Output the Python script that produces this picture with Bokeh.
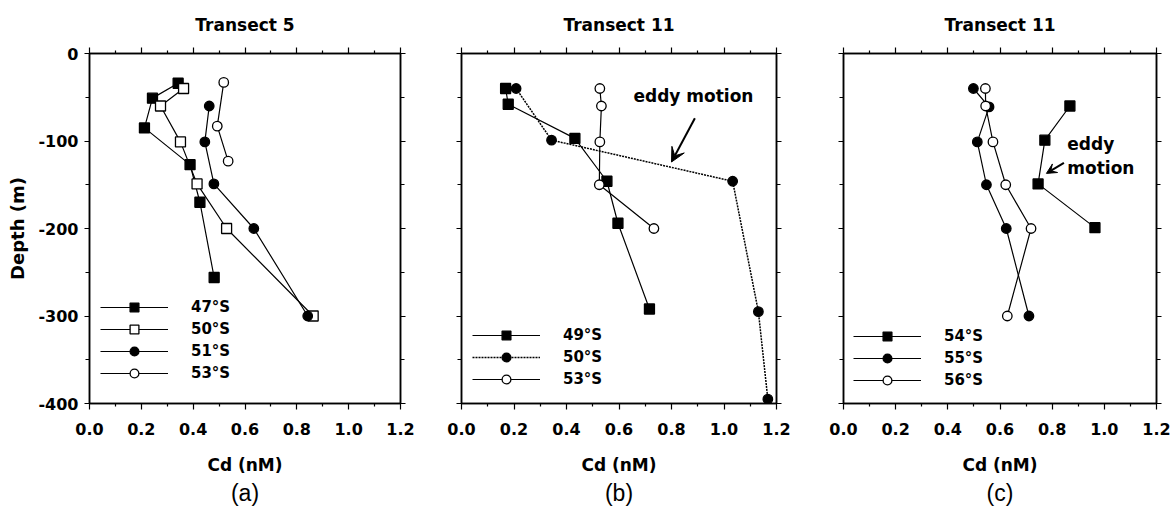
from bokeh.plotting import figure
from bokeh.models import (Range1d, LinearAxis, FixedTicker, PrintfTickFormatter,
                          CustomJSTickFormatter, Legend, LegendItem, Arrow, VeeHead,
                          Label, Title)
from bokeh.layouts import row
from bokeh.embed import file_html
from bokeh.resources import INLINE

# ---- Transect 5 ----
t5_47_cd = [0.342, 0.243, 0.212, 0.388, 0.426, 0.481]
t5_47_depth = [-34, -51, -85, -127, -170, -256]
t5_50_cd = [0.363, 0.274, 0.351, 0.415, 0.529, 0.863]
t5_50_depth = [-40, -60, -101, -149, -200, -300]
t5_51_cd = [0.462, 0.445, 0.480, 0.634, 0.842]
t5_51_depth = [-60, -101, -149, -200, -300]
t5_53_cd = [0.518, 0.493, 0.535]
t5_53_depth = [-33, -83, -123]

# ---- Transect 11, northern stations ----
t11_49_cd = [0.168, 0.178, 0.432, 0.554, 0.596, 0.716]
t11_49_depth = [-40, -58, -97, -146, -194, -292]
t11_50_cd = [0.208, 0.343, 1.033, 1.131, 1.167]
t11_50_depth = [-40, -99, -146, -295, -395]
t11_53_cd = [0.527, 0.533, 0.527, 0.525, 0.733]
t11_53_depth = [-40, -60, -101, -150, -200]

# ---- Transect 11, southern stations ----
t11_54_cd = [0.868, 0.772, 0.746, 0.964]
t11_54_depth = [-60, -99, -149, -199]
t11_55_cd = [0.498, 0.558, 0.513, 0.548, 0.624, 0.711]
t11_55_depth = [-40, -61, -101, -150, -200, -300]
t11_56_cd = [0.544, 0.545, 0.573, 0.622, 0.719, 0.628]
t11_56_depth = [-40, -60, -101, -150, -200, -300]

# axis ticks
x_major_ticks = [0.0, 0.2, 0.4, 0.6, 0.8, 1.0, 1.2]
x_minor_ticks = [0.1, 0.3, 0.5, 0.7, 0.9, 1.1]
y_major_ticks = [0, -100, -200, -300, -400]
y_minor_ticks = [-50, -150, -250, -350]

BOLD = "DejaVu Sans"
BLANK = CustomJSTickFormatter(code="return ''")


def style_axis(ax, show_labels, horizontal):
    ax.axis_line_color = "black"
    ax.axis_line_width = 1.5
    ax.major_tick_line_color = "black"
    ax.minor_tick_line_color = "black"
    ax.major_tick_line_width = 1.2
    ax.minor_tick_line_width = 1.2
    ax.major_tick_in = 0
    ax.minor_tick_in = 0
    if horizontal:
        ax.major_tick_out = 6
        ax.minor_tick_out = 3
    else:
        ax.major_tick_out = 5
        ax.minor_tick_out = 4
    ax.major_label_text_font = BOLD
    ax.major_label_text_font_style = "bold"
    ax.major_label_text_font_size = "16px"
    ax.major_label_text_color = "black"
    if not show_labels:
        ax.formatter = BLANK
        ax.major_label_standoff = 0


def make_panel(title, tag, width, left, right, show_y_labels):
    p = figure(width=width, height=511,
               x_range=Range1d(0, 1.2), y_range=Range1d(-400, 0),
               x_axis_location=None, y_axis_location=None,
               output_backend="svg", toolbar_location=None,
               min_border_left=left, min_border_right=right,
               min_border_top=53, min_border_bottom=108)
    p.xgrid.visible = False
    p.ygrid.visible = False
    p.outline_line_color = "black"
    p.outline_line_width = 1.5
    p.background_fill_color = "white"
    p.border_fill_color = "white"

    xt = FixedTicker(ticks=x_major_ticks, minor_ticks=x_minor_ticks)
    yt = FixedTicker(ticks=y_major_ticks, minor_ticks=y_minor_ticks)

    xb = LinearAxis(ticker=xt, formatter=PrintfTickFormatter(format="%.1f"))
    style_axis(xb, True, True)
    xb.major_label_standoff = 13
    xb.axis_label = "Cd (nM)"
    xb.axis_label_text_font = BOLD
    xb.axis_label_text_font_style = "bold"
    xb.axis_label_text_font_size = "17px"
    xb.axis_label_text_color = "black"
    xb.axis_label_standoff = 17
    p.add_layout(xb, "below")

    xa = LinearAxis(ticker=xt)
    style_axis(xa, False, True)
    p.add_layout(xa, "above")

    yl = LinearAxis(ticker=yt, formatter=PrintfTickFormatter(format="%d"))
    style_axis(yl, show_y_labels, False)
    if show_y_labels:
        yl.major_label_standoff = 6
        yl.axis_label = "Depth (m)"
        yl.axis_label_text_font = BOLD
        yl.axis_label_text_font_style = "bold"
        yl.axis_label_text_font_size = "18px"
        yl.axis_label_text_color = "black"
        yl.axis_label_standoff = 7
    p.add_layout(yl, "left")

    yr = LinearAxis(ticker=yt)
    style_axis(yr, False, False)
    p.add_layout(yr, "right")

    p.title.text = title
    p.title.align = "center"
    p.title.text_font = BOLD
    p.title.text_font_style = "bold"
    p.title.text_font_size = "17px"
    p.title.text_color = "black"
    p.title.standoff = 25

    p.add_layout(Title(text=tag, align="center", offset=-22,
                       text_font="Liberation Sans", text_font_style="normal",
                       text_font_size="23px", text_color="black",
                       standoff=0), "below")
    return p


def series(p, xs, ys, marker, filled, dotted=False):
    ln = p.line(xs, ys, line_color="black",
                line_width=1.5 if dotted else 1.2,
                line_dash="2 1" if dotted else "solid")
    size = 10 if marker == "square" else 9.5
    sc = p.scatter(xs, ys, marker=marker, size=size,
                   fill_color="black" if filled else "white",
                   line_color="black", line_width=1.3)
    return [ln, sc]


def add_legend(p, entries, loc):
    items = [LegendItem(label=lab, renderers=rs) for lab, rs in entries]
    lg = Legend(items=items, location=loc, glyph_width=68, glyph_height=22,
                label_height=22, label_standoff=23, spacing=0, padding=0,
                margin=0, border_line_color=None, background_fill_alpha=0,
                label_text_font=BOLD, label_text_font_style="bold",
                label_text_font_size="15px", label_text_color="black")
    p.add_layout(lg)


def add_eddy_arrow(p, xs, ys, head):
    p.add_layout(Arrow(end=VeeHead(size=head, fill_color="black", line_color="black"),
                       x_start=xs[0], y_start=ys[0], x_end=xs[1], y_end=ys[1],
                       line_color="black", line_width=2))


def add_text(p, x, y, txt):
    p.add_layout(Label(x=x, y=y, text=txt, text_font=BOLD, text_font_style="bold",
                       text_font_size="17px", text_baseline="middle",
                       text_color="black"))


# (a) Transect 5
pa = make_panel("Transect 5", "(a)", 430, 89, 30, True)
ra = [("47°S", series(pa, t5_47_cd, t5_47_depth, "square", True)),
      ("50°S", series(pa, t5_50_cd, t5_50_depth, "square", False)),
      ("51°S", series(pa, t5_51_cd, t5_51_depth, "circle", True)),
      ("53°S", series(pa, t5_53_cd, t5_53_depth, "circle", False))]
add_legend(pa, ra, (11, 19))

# (b) Transect 11, stations 49-53°S
pb = make_panel("Transect 11", "(b)", 380, 31, 34, False)
rb = [("49°S", series(pb, t11_49_cd, t11_49_depth, "square", True)),
      ("50°S", series(pb, t11_50_cd, t11_50_depth, "circle", True, dotted=True)),
      ("53°S", series(pb, t11_53_cd, t11_53_depth, "circle", False))]
add_legend(pb, rb, (11, 13))
add_text(pb, 0.655, -49, "eddy motion")
add_eddy_arrow(pb, [0.889, 0.80], [-74, -124], 14)

# (c) Transect 11, stations 54-56°S
pc = make_panel("Transect 11", "(c)", 364, 33, 18, False)
rc = [("54°S", series(pc, t11_54_cd, t11_54_depth, "square", True)),
      ("55°S", series(pc, t11_55_cd, t11_55_depth, "circle", True)),
      ("56°S", series(pc, t11_56_cd, t11_56_depth, "circle", False))]
add_legend(pc, rc, (10, 12))
add_text(pc, 0.858, -103, "eddy")
add_text(pc, 0.858, -131, "motion")
add_eddy_arrow(pc, [0.845, 0.778], [-125, -137], 10)

layout = row(pa, pb, pc, spacing=0)
open("out.html", "w").write(file_html(layout, INLINE))
